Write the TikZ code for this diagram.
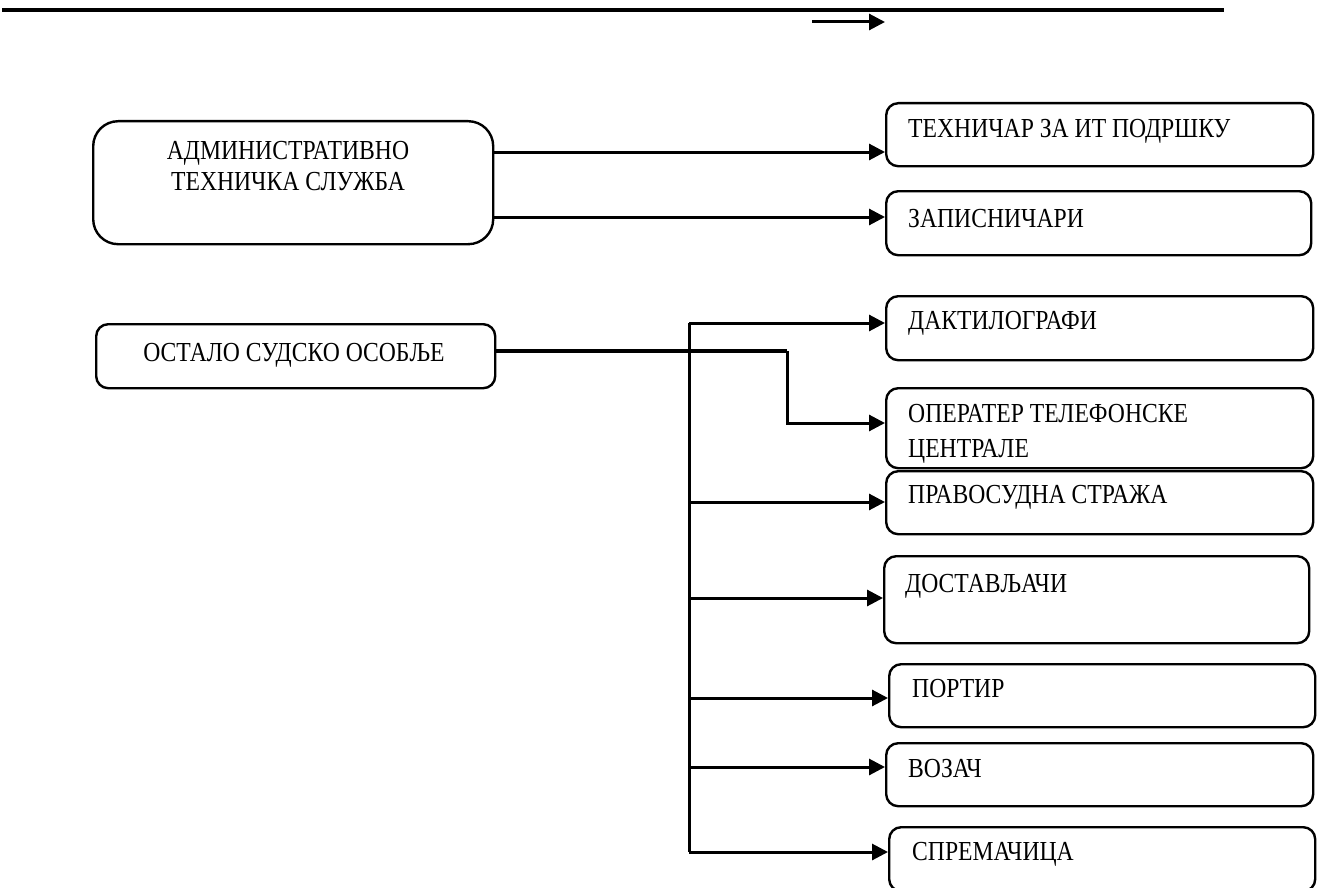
\documentclass[tikz,border=0pt]{standalone}
\usepackage{fontspec}
\setmainfont{Liberation Serif}[FakeStretch=0.86]
\usetikzlibrary{arrows.meta}
\begin{document}
\begin{tikzpicture}[x=1pt,y=-1pt,
  box/.style={draw, line width=2.4pt, rounded corners=12pt, inner sep=0pt, anchor=north west},
  lbl/.style={inner sep=0pt, font=\fontsize{27.5}{32}\selectfont},
  arr/.style={line width=3pt, -{Triangle[length=16pt,width=16pt]}},
  conn/.style={line width=3pt}
]
\useasboundingbox (0,0) rectangle (1322,888);
% top rule and small arrow
\coordinate (r1) at (2,10);
\coordinate (r2) at (1224,10);
\draw[line width=4.5pt] (r1) -- (r2);
\coordinate (s1) at (812,22);
\coordinate (s2) at (885,22);
\draw[arr] (s1) -- (s2);

% left boxes
\node[box, rounded corners=25pt, minimum width=400pt, minimum height=123pt] (adm) at (92,120) {};
\node[lbl, anchor=base] (adm1) at (288,160) {АДМИНИСТРАТИВНО};
\node[lbl, anchor=base] (adm2) at (288,190) {ТЕХНИЧКА СЛУЖБА};

\node[box, minimum width=399pt, minimum height=64pt] (ost) at (95,323) {};
\node[lbl, anchor=base] (ostl) at (294,361) {ОСТАЛО СУДСКО ОСОБЉЕ};

% right boxes
\node[box, minimum width=427pt, minimum height=63pt] (tech) at (885,102) {};
\node[lbl, anchor=base west] (techl) at (908,138) {ТЕХНИЧАР ЗА ИТ ПОДРШКУ};

\node[box, minimum width=425pt, minimum height=64pt] (zap) at (885,190) {};
\node[lbl, anchor=base west] (zapl) at (908,227) {ЗАПИСНИЧАРИ};

\node[box, minimum width=427pt, minimum height=64pt] (dakt) at (885,295) {};
\node[lbl, anchor=base west] (daktl) at (908,329) {ДАКТИЛОГРАФИ};

\node[box, minimum width=427pt, minimum height=80pt] (oper) at (885,387) {};
\node[lbl, anchor=base west] (oper1) at (908,422) {ОПЕРАТЕР ТЕЛЕФОНСКЕ};
\node[lbl, anchor=base west] (oper2) at (908,457) {ЦЕНТРАЛЕ};

\node[box, minimum width=427pt, minimum height=63pt] (prav) at (885,470) {};
\node[lbl, anchor=base west] (pravl) at (908,503) {ПРАВОСУДНА СТРАЖА};

\node[box, minimum width=425pt, minimum height=87pt] (dost) at (883,555) {};
\node[lbl, anchor=base west] (dostl) at (905,592) {ДОСТАВЉАЧИ};

\node[box, minimum width=426pt, minimum height=63pt] (port) at (888,663) {};
\node[lbl, anchor=base west] (portl) at (912,697) {ПОРТИР};

\node[box, minimum width=427pt, minimum height=63pt] (voz) at (885,742) {};
\node[lbl, anchor=base west] (vozl) at (908,777) {ВОЗАЧ};

\node[box, minimum width=426pt, minimum height=64pt] (spr) at (888,826) {};
\node[lbl, anchor=base west] (sprl) at (912,860) {СПРЕМАЧИЦА};

% connectors from АДМИНИСТРАТИВНО
\draw[arr] (adm.east |- 0,152) -- (tech.west |- 0,152);
\draw[arr] (adm.east |- 0,217) -- (zap.west |- 0,217);

% connector to ОПЕРАТЕР
\coordinate (k1) at (787,351);
\coordinate (k2) at (787,423);
\draw[line width=3.8pt] (ost.east |- 0,351) -- (k1);
\draw[arr] (k1) -- (k2) -- (oper.west |- k2);

% bus
\coordinate (bt) at (689,323);
\coordinate (bb) at (689,852);
\draw[conn] (bt) -- (bb);
\draw[arr] (bt) -- (dakt.west |- bt);
\draw[arr] (bt |- 0,502) -- (prav.west |- 0,502);
\draw[arr] (bt |- 0,598) -- (dost.west |- 0,598);
\draw[arr] (bt |- 0,698) -- (port.west |- 0,698);
\draw[arr] (bt |- 0,767) -- (voz.west |- 0,767);
\draw[arr] (bb) -- (spr.west |- bb);
\end{tikzpicture}
\end{document}
